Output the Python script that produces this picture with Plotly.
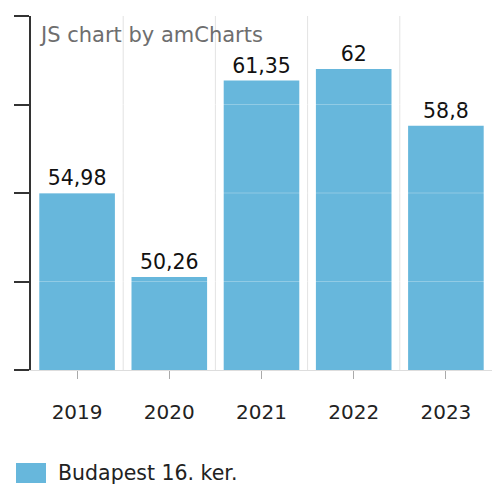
import plotly.graph_objects as go

# Data
years = ["2019", "2020", "2021", "2022", "2023"]
values = [54.98, 50.26, 61.35, 62.0, 58.8]
series_name = "Budapest 16. ker."
chart_credit = "JS chart by amCharts"
y_ticks = [45, 50, 55, 60, 65]

BAR_COLOR = "#67b7dc"
FONT = "DejaVu Sans"

labels = [f"{v:g}".replace(".", ",") for v in values]

fig = go.Figure()
fig.add_trace(go.Bar(
    x=years,
    y=values,
    marker=dict(color=BAR_COLOR, line=dict(width=0)),
    text=labels,
    textposition="outside",
    textfont=dict(family=FONT, size=20.5, color="#111111"),
    cliponaxis=False,
    showlegend=False,
    hoverinfo="skip",
))

shapes = []
# vertical grid lines on category boundaries
for i in range(len(years) - 1):
    shapes.append(dict(
        type="line", xref="x", yref="y domain",
        x0=i + 0.5, x1=i + 0.5, y0=0, y1=1,
        line=dict(color="#e3e3e3", width=1), layer="below",
    ))
# faint horizontal grid drawn across the bars
for t in y_ticks[1:-1]:
    shapes.append(dict(
        type="line", xref="x domain", yref="y",
        x0=0, x1=1, y0=t, y1=t,
        line=dict(color="rgba(255,255,255,0.28)", width=1), layer="above",
    ))

# legend: swatch + label
plot_w = 492 - 31
plot_h = 370 - 16
def px_x(px):
    return (px - 31) / plot_w
def px_y(py):
    return (370 - py) / plot_h

shapes.append(dict(
    type="rect", xref="paper", yref="paper",
    x0=px_x(16), x1=px_x(46), y0=px_y(483), y1=px_y(463),
    fillcolor=BAR_COLOR, line=dict(width=0),
))

annotations = [
    dict(text=chart_credit, xref="paper", yref="paper",
         x=px_x(37), y=px_y(35), xanchor="left", yanchor="middle",
         showarrow=False, font=dict(family=FONT, size=21, color="#6e6e6e")),
    dict(text=series_name, xref="paper", yref="paper",
         x=px_x(56), y=px_y(473), xanchor="left", yanchor="middle",
         showarrow=False, font=dict(family=FONT, size=20.5, color="#222222")),
]

fig.update_layout(
    width=492, height=488,
    margin=dict(l=31, r=0, t=16, b=118),
    paper_bgcolor="white", plot_bgcolor="white",
    bargap=0.18,
    shapes=shapes,
    annotations=annotations,
    font=dict(family=FONT),
    xaxis=dict(
        type="category",
        showgrid=False,
        showline=True, linecolor="#dddddd", linewidth=1,
        ticks="outside", ticklen=8, tickcolor="#aaaaaa", tickwidth=1,
        ticklabelstandoff=16,
        tickfont=dict(family=FONT, size=20, color="#222222"),
        zeroline=False,
    ),
    yaxis=dict(
        range=[45, 65],
        tickvals=y_ticks,
        showticklabels=False,
        ticks="outside", ticklen=15, tickcolor="#333333", tickwidth=2,
        showline=True, linecolor="#333333", linewidth=2,
        showgrid=False, zeroline=False,
    ),
)

fig.write_html("out.html")
